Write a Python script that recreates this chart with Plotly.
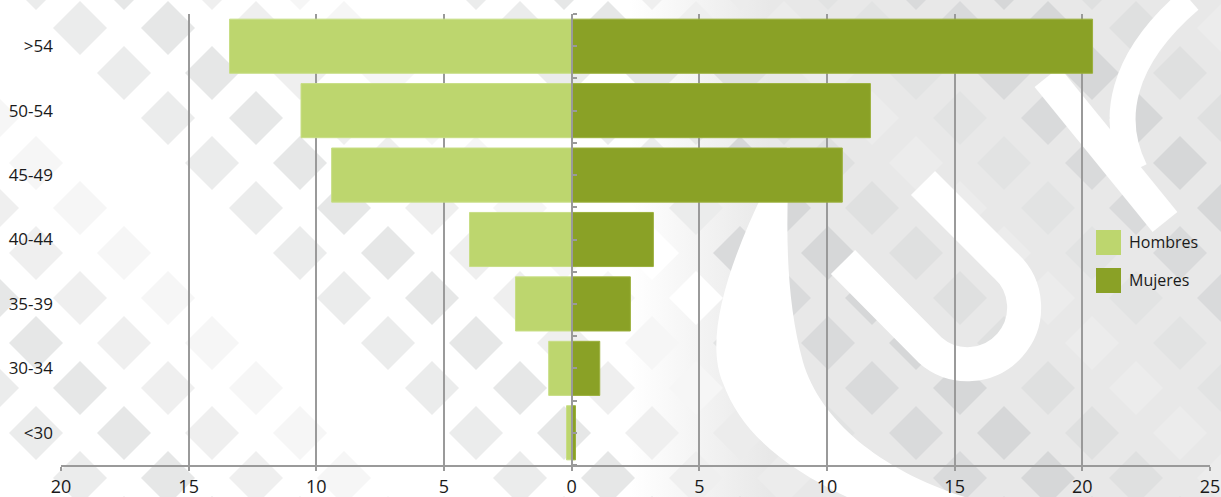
import base64
import plotly.graph_objects as go

# --- data (percent of staff by age group) ---
groups = ["<30", "30-34", "35-39", "40-44", "45-49", "50-54", ">54"]
hombres = [0.2, 0.9, 2.2, 4.0, 9.4, 10.6, 13.4]
mujeres = [0.15, 1.1, 2.3, 3.2, 10.6, 11.7, 20.4]
x_ticks = [-20, -15, -10, -5, 0, 5, 10, 15, 20, 25]
x_labels = ["20", "15", "10", "5", "0", "5", "10", "15", "20", "25"]

C_H = "#bdd66e"
C_M = "#8aa126"
GRID = "#9a9a9a"
W, H = 1221, 497
L, R, T, B = 61, 11, 14, 32
PW, PH = W - L - R, H - T - B


def background_svg():
    # decorative diamond lattice + watermark-ish shapes, like the source slide
    out = [f'<svg xmlns="http://www.w3.org/2000/svg" width="{W}" height="{H}" viewBox="0 0 {W} {H}">',
           '<defs><linearGradient id="g" x1="0" x2="1" y1="0" y2="0">'
           '<stop offset="0" stop-color="#e8e8e8" stop-opacity="0"/>'
           '<stop offset="1" stop-color="#e8e8e8" stop-opacity="1"/></linearGradient></defs>',
           f'<rect width="{W}" height="{H}" fill="#ffffff"/>',
           '<rect x="630" y="0" width="140" height="497" fill="url(#g)"/>',
           '<rect x="770" y="0" width="460" height="497" fill="#e8e8e8"/>']
    light = ["#e6e7e7", "#efefef", "#f6f6f6", "#ffffff", "#ebecec"]
    dark = ["#d6d7d8", "#dfe0e0", "#ececec", "#e2e3e3", "#d9dadb"]
    for m in range(-1, 13):
        for k in range(-5, 30):
            if (k + m) % 2:
                continue
            cx, cy = 168 + 44 * k, 28 + 45 * m
            shades = dark if cx > 700 else light
            col = shades[(k * 3 + m * 7) % 5]
            r = 27
            out.append(f'<polygon points="{cx},{cy-r} {cx+r},{cy} {cx},{cy+r} {cx-r},{cy}" fill="{col}"/>')
    # white watermark strokes
    out.append('<path d="M787 147 C740 233 700 330 723 383 C740 430 780 465 847 497 L965 497 '
               'C880 470 820 420 803 362 C786 300 785 230 790 147 Z" fill="#ffffff"/>')
    out.append('<path d="M923 183 L1005 265 A56 56 0 0 1 930 350 L843 262" fill="none" '
               'stroke="#ffffff" stroke-width="34"/>')
    out.append('<path d="M1047 77 L1165 222" stroke="#ffffff" stroke-width="32"/>')
    out.append('<path d="M1190 0 C1120 60 1110 120 1135 170" fill="none" stroke="#ffffff" stroke-width="26"/>')
    out.append("</svg>")
    return "data:image/svg+xml;base64," + base64.b64encode("".join(out).encode()).decode()


def px_x(p):
    return (p - L) / PW


def px_y(p):
    return (H - B - p) / PH


fig = go.Figure()
fig.add_trace(go.Bar(y=groups, x=[-v for v in hombres], customdata=hombres, orientation="h",
                     name="Hombres", marker=dict(color=C_H, line=dict(color="#c8de86", width=1)),
                     hovertemplate="%{y}<br>Hombres: %{customdata}<extra></extra>"))
fig.add_trace(go.Bar(y=groups, x=mujeres, orientation="h",
                     name="Mujeres", marker=dict(color=C_M, line=dict(color="#9bb03c", width=1)),
                     hovertemplate="%{y}<br>Mujeres: %{x}<extra></extra>"))
# carrier for the centre axis at x = 0
fig.add_trace(go.Scatter(x=[0], y=[0], yaxis="y2", mode="markers", marker=dict(opacity=0),
                         hoverinfo="skip", showlegend=False))

fig.update_layout(
    width=W, height=H, barmode="relative", bargap=0.16,
    margin=dict(l=L, r=R, t=T, b=B),
    paper_bgcolor="rgba(0,0,0,0)", plot_bgcolor="rgba(0,0,0,0)",
    font=dict(family="Open Sans, Lato, sans-serif", color="#1a1a1a"),
    showlegend=False,
    xaxis=dict(range=[-20, 25], tickvals=x_ticks, ticktext=x_labels, showgrid=True,
               gridcolor=GRID, gridwidth=1.5, zeroline=False, showline=True, linecolor=GRID,
               linewidth=2, ticks="outside", tickcolor=GRID, tickwidth=2, ticklen=4,
               tickfont=dict(size=18), automargin=False, fixedrange=True),
    yaxis=dict(categoryorder="array", categoryarray=groups, range=[-0.5, 6.5],
               showgrid=False, zeroline=False, showline=False, ticks="",
               tickfont=dict(size=17), ticklabelstandoff=7, automargin=False),
    yaxis2=dict(overlaying="y", anchor="free", position=20 / 45, side="right",
                range=[-0.5, 6.5], tickvals=[i / 2 for i in range(-1, 14)],
                ticks="outside", ticklen=4, tickwidth=1.5, tickcolor=GRID,
                showticklabels=False, showline=True, linecolor=GRID, linewidth=2,
                showgrid=False, zeroline=False, automargin=False),
    images=[dict(source=background_svg(), xref="paper", yref="paper",
                 x=px_x(0), y=px_y(0), sizex=W / PW, sizey=H / PH,
                 sizing="stretch", layer="below", xanchor="left", yanchor="top")],
)

# legend drawn by hand (large swatches like the original)
for name, col, top in (("Hombres", C_H, 230), ("Mujeres", C_M, 268)):
    fig.add_shape(type="rect", xref="paper", yref="paper",
                  x0=px_x(1096), x1=px_x(1121), y0=px_y(top + 25), y1=px_y(top),
                  fillcolor=col, line=dict(width=0))
    fig.add_annotation(xref="paper", yref="paper", x=px_x(1127), y=px_y(top + 12.5),
                       text=name, showarrow=False, xanchor="left", yanchor="middle",
                       font=dict(size=16, color="#1a1a1a"))

# page body has a default 8px margin; drop it so the figure sits at the window origin
fig.write_html("out.html", config={"displayModeBar": False},
               post_script="document.body.style.margin='0';")
